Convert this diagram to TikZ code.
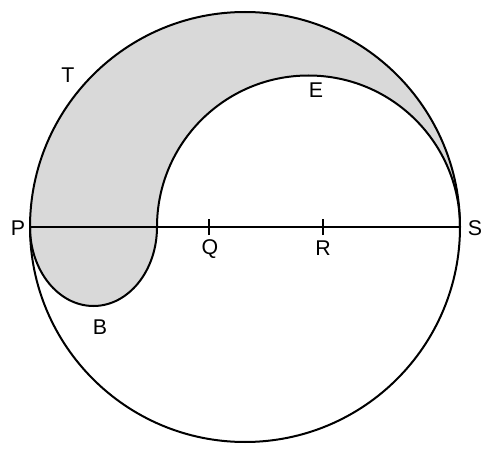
\documentclass[tikz,border=0pt]{standalone}
\usepackage{fontspec}
\setmainfont{Liberation Sans}
\begin{document}
\begin{tikzpicture}[x=0.75pt,y=0.75pt,
  curve/.style={line width=1.5pt, black},
  lbl/.style={font=\fontsize{16}{18}\selectfont, inner sep=0pt}]
\useasboundingbox (0,0) rectangle (486,451);
\coordinate (O) at (245,224);
\coordinate (P) at (30,224);
\coordinate (S) at (460,224);
\coordinate (M) at (157,224);
\coordinate (Qc) at (209,224);
\coordinate (Rc) at (323,224);
% shaded region
\fill[fill={rgb,255:red,217;green,217;blue,217}]
  (P) arc[start angle=180, end angle=0, radius=215]
  arc[start angle=0, end angle=180, radius=151.5]
  arc[start angle=0, end angle=-180, x radius=63.5, y radius=79] -- cycle;
% big circle
\draw[curve] (O) circle[radius=215];
% inner arcs
\draw[curve] (S) arc[start angle=0, end angle=180, radius=151.5];
\draw[curve] (M) arc[start angle=0, end angle=-180, x radius=63.5, y radius=79];
% diameter
\draw[curve] (P) -- (S);
% ticks
\draw[curve] ([yshift=-6]Qc) -- ([yshift=6]Qc);
\draw[curve] ([yshift=-6]Rc) -- ([yshift=6]Rc);
% labels
\node[lbl] (lP) at (18,223) {P};
\node[lbl] (lS) at (475,223) {S};
\node[lbl] (lQ) at (210,202) {Q};
\node[lbl] (lR) at (323,203) {R};
\node[lbl] (lT) at (68,376) {T};
\node[lbl] (lE) at (316,361) {E};
\node[lbl] (lB) at (100,124) {B};
\end{tikzpicture}
\end{document}
